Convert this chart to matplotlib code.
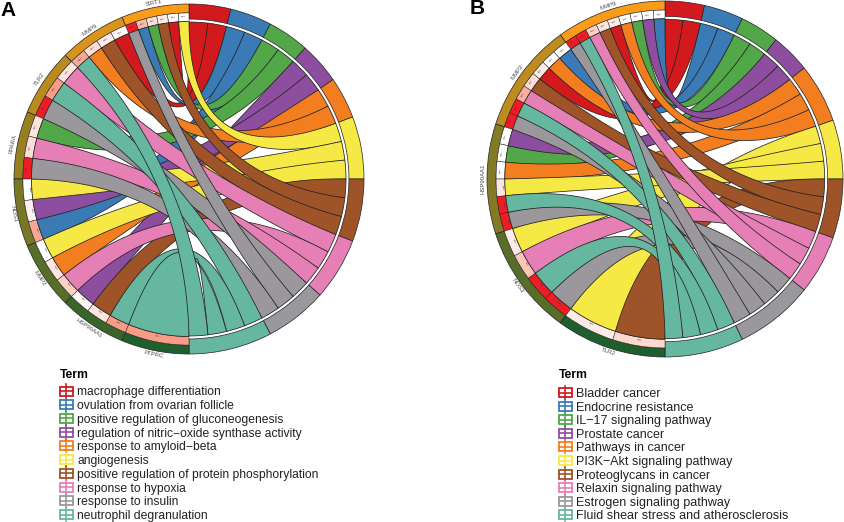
import numpy as np
import matplotlib
matplotlib.use("Agg")
import matplotlib.pyplot as plt
from matplotlib.colors import LinearSegmentedColormap
from matplotlib.patches import Wedge, Polygon, Rectangle

plt.rcParams["font.family"] = ["Liberation Sans", "DejaVu Sans"]

TERM_COLORS = ["#D2191E", "#3A7BB6", "#52A748", "#8E4E9F", "#F37E20",
               "#F6E945", "#9E5428", "#E77FB7", "#9A989C", "#66B79F"]
EDGE = "#222222"
SPREAD = 0.12  # keeps ribbons from pinching at the middle of the circle

# panel A
terms_a = ["macrophage differentiation", "ovulation from ovarian follicle",
           "positive regulation of gluconeogenesis",
           "regulation of nitric\u2212oxide synthase activity",
           "response to amyloid\u2212beta", "angiogenesis",
           "positive regulation of protein phosphorylation",
           "response to hypoxia", "response to insulin",
           "neutrophil degranulation"]
genes_a = ["SIRT1", "MMP9", "TLR2", "PPARA", "NOS3", "MMP2", "HSP90AA1", "PTPRC"]
logfc_a = [1.0, 0.85, 0.7, 0.55, 0.4, 0.25, 0.12, 0.0]
links_a = [[5, 0, 6, 2, 1, 8], [0, 6, 4, 9], [7, 9, 8], [2, 7, 8],
           [5, 3, 1], [5, 4, 7], [3, 6, 9], [9]]
signif_a = [[0.0, 0.05, 0.15, 0.25, 0.45, 1.0], [0.03, 0.15, 0.25, 0.55],
            [0.2, 0.6, 1.0], [0.2, 0.25, 1.0], [0.0, 0.1, 0.55],
            [0.0, 0.2, 0.35], [0.05, 0.2, 0.6], [0.6]]
# genes in the order they meet each term, going clockwise
term_genes_a = [["SIRT1", "MMP9"], ["SIRT1", "NOS3"], ["SIRT1", "PPARA"],
                ["HSP90AA1", "NOS3"], ["MMP2", "MMP9"], ["SIRT1", "NOS3", "MMP2"],
                ["HSP90AA1", "SIRT1", "MMP9"], ["TLR2", "MMP2", "PPARA"],
                ["TLR2", "SIRT1", "PPARA"], ["TLR2", "HSP90AA1", "PTPRC", "MMP9"]]

# panel B
terms_b = ["Bladder cancer", "Endocrine resistance", "IL\u221217 signaling pathway",
           "Prostate cancer", "Pathways in cancer", "PI3K\u2212Akt signaling pathway",
           "Proteoglycans in cancer", "Relaxin signaling pathway",
           "Estrogen signaling pathway", "Fluid shear stress and atherosclerosis"]
genes_b = ["MMP9", "MMP2", "HSP90AA1", "NOS3", "TLR2"]
logfc_b = [1.0, 0.72, 0.45, 0.25, 0.0]
links_b = [[1, 3, 2, 4, 0, 6, 7, 9, 8], [1, 4, 0, 6, 7, 9, 8],
           [3, 2, 4, 5, 9, 8], [5, 7, 9, 8], [5, 6]]
signif_b = [[0.0, 0.0, 0.0, 0.0, 0.15, 0.2, 0.35, 1.0, 1.0],
            [0.0, 0.0, 0.15, 0.25, 0.5, 1.0, 1.0],
            [0.0, 0.0, 0.0, 0.2, 1.0, 1.0], [0.15, 0.4, 1.0, 1.0], [0.15, 0.3]]
term_genes_b = [["MMP9", "MMP2"], ["MMP9", "MMP2"], ["MMP9", "HSP90AA1"],
                ["HSP90AA1", "MMP9"], ["MMP2", "HSP90AA1", "MMP9"],
                ["TLR2", "NOS3", "HSP90AA1"], ["TLR2", "MMP9", "MMP2"],
                ["NOS3", "MMP2", "MMP9"], ["HSP90AA1", "NOS3", "MMP2", "MMP9"],
                ["MMP2", "HSP90AA1", "NOS3", "MMP9"]]

fc_cmap = LinearSegmentedColormap.from_list("fc", ["#1F5E2D", "#FB9C18"])
sig_cmap = LinearSegmentedColormap.from_list(
    "sig", ["#FFFFFF", "#FDD3C8", "#F78E78", "#EE1C25"])


def on_circle(angle, r, side):
    # angle in degrees from the top, side -1 = genes (left), 1 = terms (right)
    rad = np.radians(angle)
    return side * r * np.sin(rad), r * np.cos(rad)


def bezier(p0, p1, ctrl, n=80):
    t = np.linspace(0, 1, n)[:, None]
    return (1 - t) ** 2 * np.array(p0) + 2 * t * (1 - t) * ctrl + t ** 2 * np.array(p1)


def arc(a0, a1, r, side, n=12):
    ang = np.linspace(a0, a1, n)
    return np.column_stack(on_circle(ang, r, side))


def ribbon_points(a0, a1, t0, t1):
    g0 = np.array(on_circle(a0, 0.9, -1))
    g1 = np.array(on_circle(a1, 0.9, -1))
    e0 = np.array(on_circle(t0, 0.897, 1))
    e1 = np.array(on_circle(t1, 0.897, 1))
    shift = SPREAD * ((g1 - g0) + (e1 - e0))
    return np.vstack([
        arc(a0, a1, 0.9, -1),
        bezier(g1, e1, shift),
        arc(t1, t0, 0.897, 1),
        bezier(e0, g0, -shift),
    ])


def draw_chord(ax, genes, logfc, links, signif, term_genes):
    ax.set_xlim(-1.06, 1.06)
    ax.set_ylim(-1.06, 1.06)
    ax.set_aspect("equal")
    ax.axis("off")

    n_links = sum(len(g) for g in links)
    unit = 180 / n_links
    n_terms = len(TERM_COLORS)
    counts = [len(g) for g in term_genes]
    starts = np.concatenate([[0], np.cumsum(counts)[:-1]])

    # term band on the right
    for j in range(n_terms):
        t0 = starts[j] * unit
        t1 = (starts[j] + counts[j]) * unit
        ax.add_patch(Wedge((0, 0), 1.0, 90 - t1, 90 - t0, width=0.086,
                           fc=TERM_COLORS[j], ec=EDGE, lw=0.5))

    gene_step = 180 / len(genes)
    ribbons = []
    for i, gene in enumerate(genes):
        g0 = i * gene_step
        cell = gene_step / len(links[i])
        # gene band on the left
        ax.add_patch(Wedge((0, 0), 1.0, 90 + g0, 90 + g0 + gene_step, width=0.051,
                           fc=fc_cmap(logfc[i]), ec=EDGE, lw=0.5))
        mid = g0 + gene_step / 2
        ax.text(*on_circle(mid, 1.024, -1), gene, fontsize=4.3, color="#4D4D4D",
                rotation=mid if mid <= 90 else mid - 180,
                rotation_mode="anchor", ha="center", va="center")
        for k, term in enumerate(links[i]):
            a0 = g0 + k * cell
            a1 = a0 + cell
            ax.add_patch(Wedge((0, 0), 0.949, 90 + a0, 90 + a1, width=0.049,
                               fc=sig_cmap(signif[i][k]), ec=EDGE, lw=0.35))
            amid = (a0 + a1) / 2
            ax.text(*on_circle(amid, 0.921, -1), "***", fontsize=3, color="#333333",
                    rotation=amid if amid <= 90 else amid - 180,
                    rotation_mode="anchor", ha="center", va="center")
            t0 = (starts[term] + term_genes[term].index(gene)) * unit
            ribbons.append((term, t0, a0, a1))

    # later terms lie on top of earlier ones, inside a term the lower slot wins
    for term, t0, a0, a1 in sorted(ribbons):
        ax.add_patch(Polygon(ribbon_points(a0, a1, t0, t0 + unit), closed=True,
                             fc=TERM_COLORS[term], ec=EDGE, lw=0.55,
                             joinstyle="round", zorder=1))


def draw_legend(ax, terms, key_x, title_y, first_y, step, size):
    ax.text(key_x, title_y, "Term", fontsize=8.7, fontweight="bold",
            color="black", va="center")
    for j, label in enumerate(terms):
        y = first_y + j * step
        col = TERM_COLORS[j]
        ax.add_patch(Rectangle((key_x, y - 4.5), 12.5, 9, fc="white", ec=col, lw=1.3))
        ax.plot([key_x + 6.25, key_x + 6.25], [y - 7, y + 6.5], color=col, lw=1.2)
        ax.plot([key_x, key_x + 12.5], [y, y], color=col, lw=1.2)
        ax.text(key_x + 17, y, label, fontsize=size, color="#222222", va="center_baseline")


W, H = 844, 522
fig = plt.figure(figsize=(W / 100, H / 100), dpi=100, facecolor="white")


def chord_axes(cx, cy, radius):
    half = 1.06 * radius
    return fig.add_axes([(cx - half) / W, 1 - (cy + half) / H, 2 * half / W, 2 * half / H])


draw_chord(chord_axes(189, 179, 175), genes_a, logfc_a, links_a, signif_a, term_genes_a)
draw_chord(chord_axes(665, 179, 178), genes_b, logfc_b, links_b, signif_b, term_genes_b)

over = fig.add_axes([0, 0, 1, 1])
over.set_xlim(0, W)
over.set_ylim(H, 0)
over.axis("off")
draw_legend(over, terms_a, 60, 374.5, 391, 13.74, 8.7)
draw_legend(over, terms_b, 559, 374.5, 392.5, 13.6, 9)
over.text(0, 10, "A", fontsize=15, fontweight="bold", va="center")
over.text(470, 8, "B", fontsize=15, fontweight="bold", va="center")

fig.savefig("out.png", dpi=100)
